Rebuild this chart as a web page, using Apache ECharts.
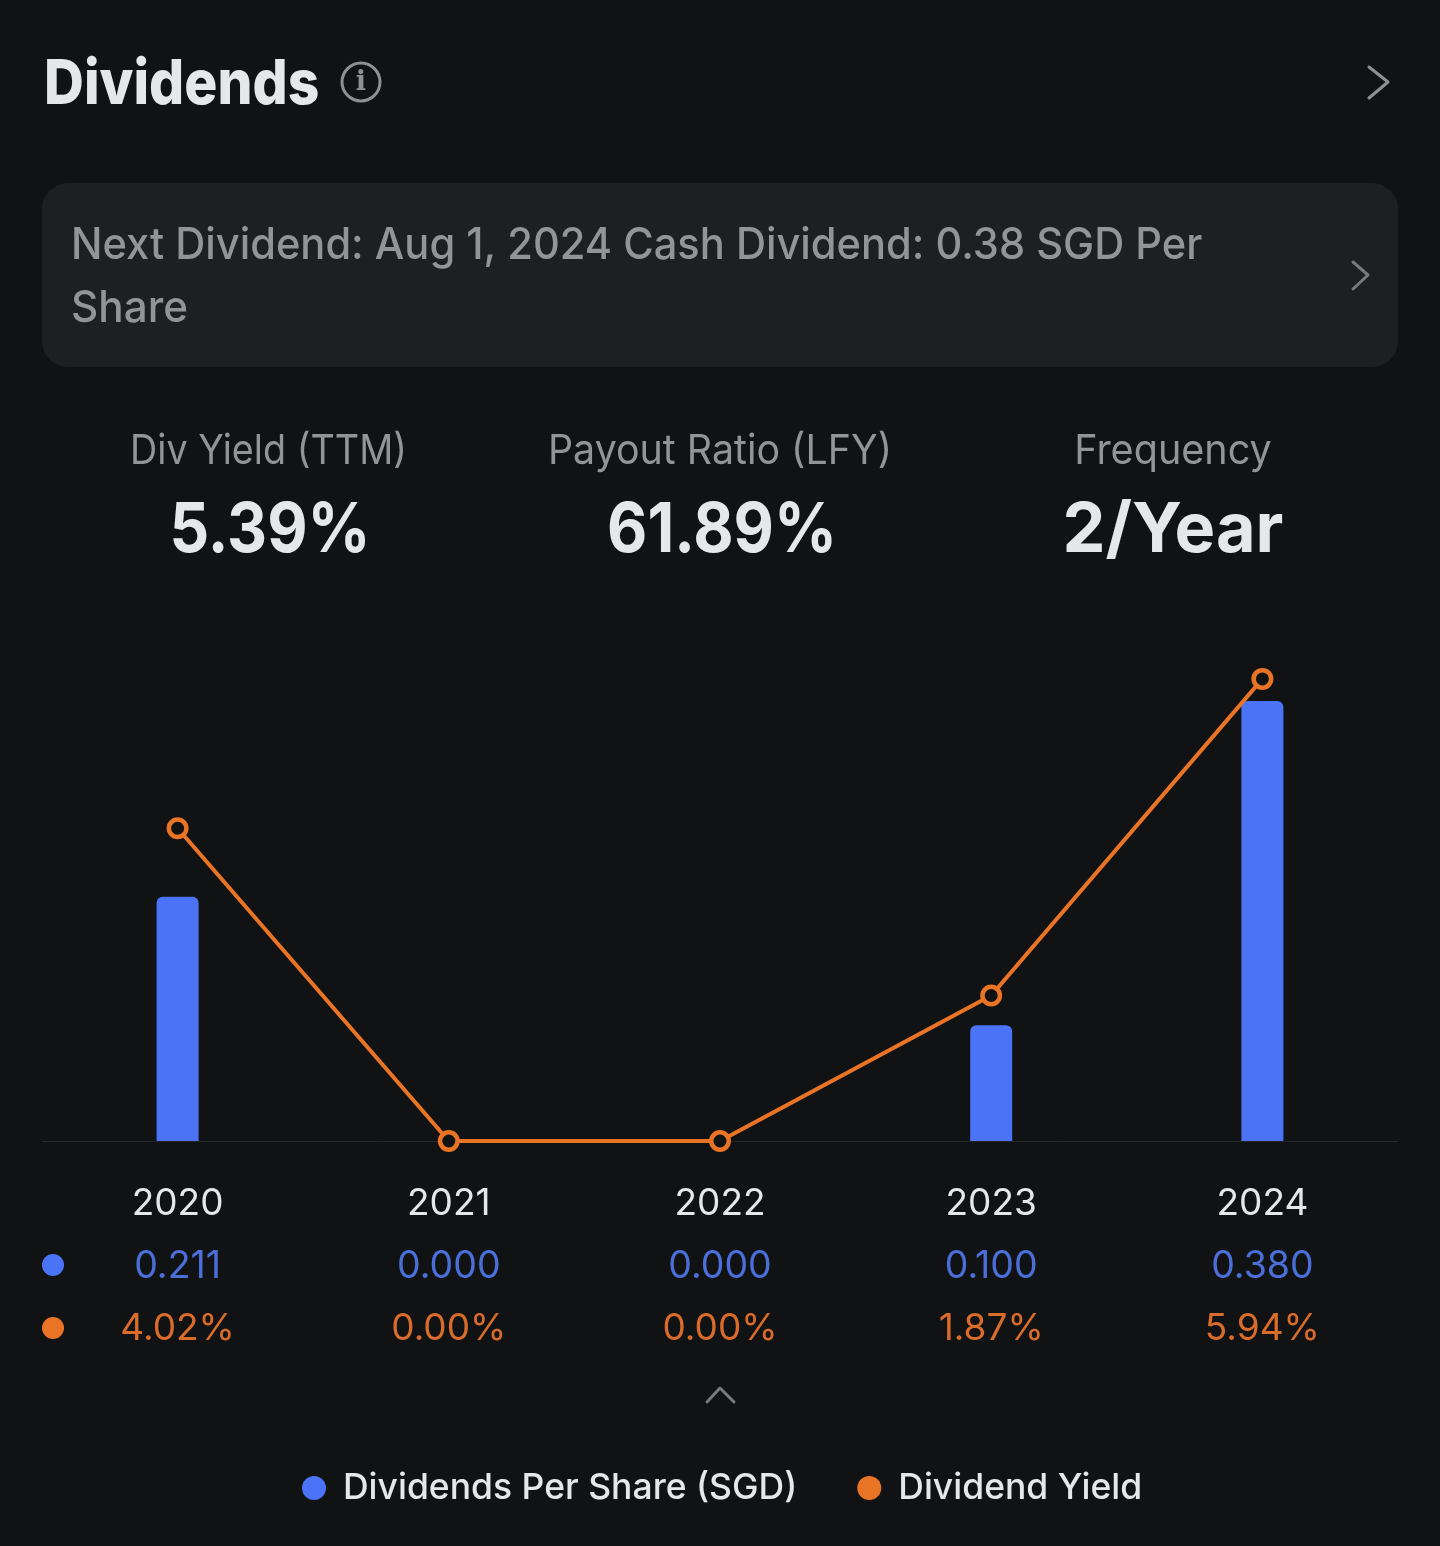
<!DOCTYPE html>
<html><head><meta charset="utf-8">
<style>html,body{margin:0;padding:0;background:#111214}#c{width:1440px;height:1546px}</style>
<script src="https://cdn.jsdelivr.net/npm/echarts@6/dist/echarts.min.js"></script>
</head><body><div id="c"></div>
<script>
const years = ['2020','2021','2022','2023','2024'];
const dividends = [0.211,0.000,0.000,0.100,0.380];
const yields = [4.02,0.00,0.00,1.87,5.94];
const dividendLabels = ['0.211','0.000','0.000','0.100','0.380'];
const yieldLabels = ['4.02%','0.00%','0.00%','1.87%','5.94%'];
const statLabels = ['Div Yield (TTM)','Payout Ratio (LFY)','Frequency'];
const statValues = ['5.39%','61.89%','2/Year'];
const statX = [268.5,720,1173];
const statValueX = [270,722,1173];
const statLabelScale = [0.92,0.96,0.965];
const statValueScale = [0.9,0.9,0.99];
const FONT = 'Inter';
const BLUE='#4a73f6', ORANGE='#ea7425', BG='#111214';
const chart = echarts.init(document.getElementById('c'),null,{renderer:'canvas'});
function txt(x,y,text,size,weight,fill,align,sx){
  return {type:'text',x,y,scaleX:sx||1,silent:true,style:{text,fontFamily:FONT,fontSize:size,fontWeight:weight,fill,align:align||'left',verticalAlign:'middle'}};
}
function chev(points,color,w){
  return {type:'polyline',silent:true,shape:{points},style:{stroke:color,lineWidth:w,fill:null,lineCap:'round',lineJoin:'round'}};
}
const gfx = [
  txt(44,85,'Dividends',62,800,'#e6e7e9','left',0.89),
  {type:'circle',silent:true,shape:{cx:361,cy:82,r:19},style:{stroke:'#8f9092',lineWidth:3,fill:null}},
  {type:'text',silent:true,x:361,y:83,style:{text:'i',fontFamily:'DejaVu Serif',fontSize:27,fontWeight:700,fill:'#8f9092',align:'center',verticalAlign:'middle'}},
  chev([[1369,67],[1388,82],[1369,98]],'#8f9092',3),
  {type:'rect',silent:true,z:-1,shape:{x:42,y:183,width:1356,height:184,r:26},style:{fill:'#1e1f23'}},
  txt(71,246,'Next Dividend: Aug 1, 2024 Cash Dividend: 0.38 SGD Per',44,500,'#929497','left',0.946),
  txt(71,309,'Share',44,500,'#929497','left',0.96),
  chev([[1353,262],[1368,275],[1353,289]],'#77797c',3),
  {type:'circle',silent:true,shape:{cx:53,cy:1265,r:11},style:{fill:BLUE}},
  {type:'circle',silent:true,shape:{cx:53,cy:1328,r:11},style:{fill:ORANGE}},
  chev([[707,1402],[720,1388],[734,1402]],'#77797c',3)
];
statLabels.forEach((s,i)=>{
  gfx.push(txt(statX[i],452,s,41,400,'#929497','center',statLabelScale[i]));
  gfx.push(txt(statValueX[i],531,statValues[i],69,700,'#e6e7e9','center',statValueScale[i]));
});
chart.setOption({
  backgroundColor:BG,
  animation:false,
  graphic:gfx,
  legend:{
    left:297,top:1465,icon:'circle',itemWidth:24,itemHeight:24,itemGap:60,
    textStyle:{color:'#e6e7e9',fontFamily:FONT,fontSize:35.5,fontWeight:500,padding:[0,0,0,12]},
    data:[{name:'Dividends Per Share (SGD)',itemStyle:{color:BLUE}},{name:'Dividend Yield',itemStyle:{color:ORANGE,borderWidth:0}}]
  },
  grid:{left:42,right:42,top:641,height:500,containLabel:false},
  xAxis:{
    type:'category',data:years,
    axisLine:{lineStyle:{color:'#24262a',width:1}},axisTick:{show:false},
    axisLabel:{
      interval:0,margin:32,
      formatter:(v,i)=>`{y|${v}}\n{d|${dividendLabels[i]}}\n{p|${yieldLabels[i]}}`,
      rich:{
        y:{color:'#e6e7e9',fontFamily:FONT,fontSize:37,lineHeight:62.5},
        d:{color:'#4a6fd9',fontFamily:FONT,fontSize:37.5,lineHeight:62.5},
        p:{color:'#d96c2a',fontFamily:FONT,fontSize:37,lineHeight:62.5}
      }
    }
  },
  yAxis:[
    {type:'value',min:0,max:0.4318,show:false,splitLine:{show:false}},
    {type:'value',min:0,max:6.427,show:false,splitLine:{show:false}}
  ],
  series:[
    {name:'Dividends Per Share (SGD)',type:'bar',data:dividends,yAxisIndex:0,barWidth:42,
     itemStyle:{color:BLUE,borderRadius:[6,6,0,0]}},
    {name:'Dividend Yield',type:'line',data:yields,yAxisIndex:1,symbol:'circle',symbolSize:17.5,showAllSymbols:true,
     lineStyle:{color:ORANGE,width:4},
     itemStyle:{color:BG,borderColor:ORANGE,borderWidth:4.5}}
  ]
});
</script></body></html>
